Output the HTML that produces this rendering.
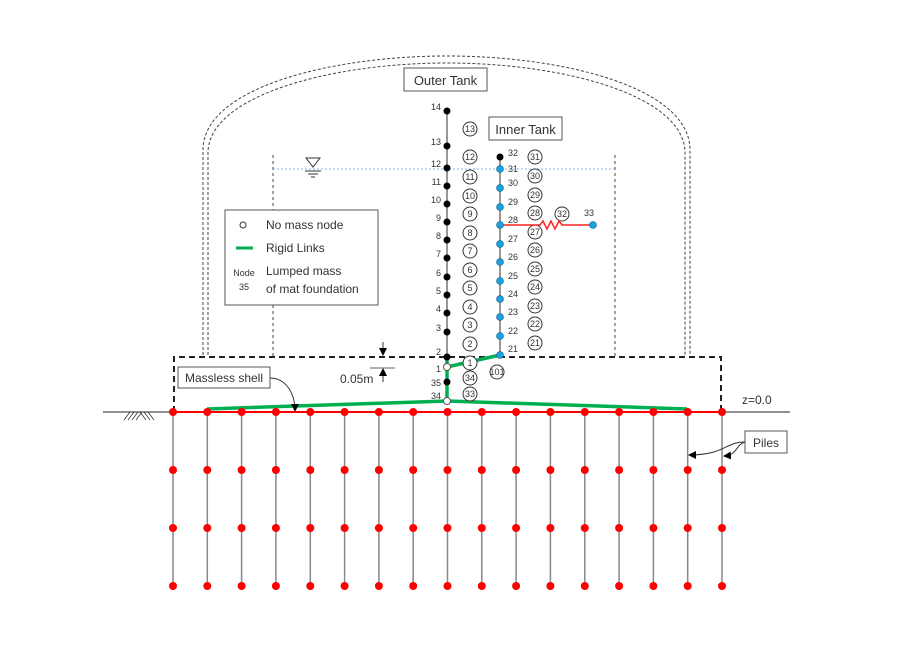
<!DOCTYPE html>
<html><head><meta charset="utf-8"><style>
html,body{margin:0;padding:0;background:#fff}
svg{display:block}
text{font-family:"Liberation Sans",sans-serif;fill:#333}
</style></head><body>
<svg width="900" height="650" viewBox="0 0 900 650" xmlns="http://www.w3.org/2000/svg">
<defs>
<marker id="ah" markerWidth="8" markerHeight="8" refX="7" refY="4" orient="auto" markerUnits="userSpaceOnUse"><path d="M0,0 L8,4 L0,8 z" fill="#000"/></marker>
</defs>
<!-- dome -->
<path d="M203,355 L203,150 C203,88 330,56 447,56 C565,56 690,88 690,150 L690,355" fill="none" stroke="#444" stroke-width="1" stroke-dasharray="3,2"/>
<path d="M208,355 L208,153 C208,96 330,63 447,63 C565,63 685,96 685,153 L685,355" fill="none" stroke="#444" stroke-width="1" stroke-dasharray="3,2"/>
<!-- inner tank walls -->
<line x1="273" y1="155" x2="273" y2="356" stroke="#444" stroke-dasharray="3,3"/>
<line x1="615" y1="155" x2="615" y2="356" stroke="#444" stroke-dasharray="3,3"/>
<!-- water line -->
<line x1="273" y1="169" x2="615" y2="169" stroke="#8ab4e0" stroke-dasharray="2,2"/>
<path d="M306,158 L320,158 L313,167 z" fill="none" stroke="#333"/>
<line x1="305" y1="171" x2="321" y2="171" stroke="#333"/>
<line x1="308" y1="174" x2="318" y2="174" stroke="#333"/>
<line x1="311" y1="177" x2="315" y2="177" stroke="#333"/>
<!-- foundation dashed rect -->
<path d="M174,412 L174,357 L721,357 L721,412" fill="none" stroke="#222" stroke-width="2" stroke-dasharray="6,4"/>
<!-- labels boxes -->
<rect x="404" y="68" width="83" height="23" fill="#fff" stroke="#555"/>
<text x="445.5" y="85" font-size="13" text-anchor="middle">Outer Tank</text>
<rect x="489" y="117" width="73" height="23" fill="#fff" stroke="#555"/>
<text x="525.5" y="134" font-size="13" text-anchor="middle">Inner Tank</text>
<!-- legend -->
<rect x="225" y="210" width="153" height="95" fill="#fff" stroke="#555"/>
<circle cx="243" cy="225" r="3" fill="#fff" stroke="#333"/>
<text x="266" y="229" font-size="12">No mass node</text>
<line x1="236" y1="248" x2="253" y2="248" stroke="#00b050" stroke-width="3"/>
<text x="266" y="252" font-size="12">Rigid Links</text>
<text x="244" y="276" font-size="9" text-anchor="middle">Node</text>
<text x="244" y="290" font-size="9" text-anchor="middle">35</text>
<text x="266" y="275" font-size="12">Lumped mass</text>
<text x="266" y="293" font-size="12">of mat foundation</text>
<!-- ground line -->
<line x1="103" y1="412" x2="790" y2="412" stroke="#222"/>
<g stroke="#333" stroke-width="0.8">
<line x1="124" y1="420" x2="130" y2="412"/><line x1="128" y1="420" x2="134" y2="412"/><line x1="132" y1="420" x2="138" y2="412"/><line x1="136" y1="420" x2="142" y2="412"/><line x1="140" y1="412" x2="146" y2="420"/><line x1="144" y1="412" x2="150" y2="420"/><line x1="148" y1="412" x2="154" y2="420"/>
</g>
<!-- piles -->
<g id="piles" stroke="#888" stroke-width="1.5">
<line x1="173" y1="412" x2="173" y2="586"/><line x1="207.3" y1="412" x2="207.3" y2="586"/><line x1="241.6" y1="412" x2="241.6" y2="586"/><line x1="275.9" y1="412" x2="275.9" y2="586"/><line x1="310.3" y1="412" x2="310.3" y2="586"/><line x1="344.6" y1="412" x2="344.6" y2="586"/><line x1="378.9" y1="412" x2="378.9" y2="586"/><line x1="413.2" y1="412" x2="413.2" y2="586"/><line x1="447.5" y1="412" x2="447.5" y2="586"/><line x1="481.8" y1="412" x2="481.8" y2="586"/><line x1="516.1" y1="412" x2="516.1" y2="586"/><line x1="550.4" y1="412" x2="550.4" y2="586"/><line x1="584.8" y1="412" x2="584.8" y2="586"/><line x1="619.1" y1="412" x2="619.1" y2="586"/><line x1="653.4" y1="412" x2="653.4" y2="586"/><line x1="687.7" y1="412" x2="687.7" y2="586"/><line x1="722" y1="412" x2="722" y2="586"/>
</g>
<!-- green rigid links -->
<g stroke="#00b050" stroke-width="3.5" fill="none">
<line x1="207" y1="409" x2="447" y2="401"/>
<line x1="447" y1="401" x2="687" y2="409"/>
<line x1="447" y1="357" x2="447" y2="401"/>
<line x1="447" y1="367" x2="500" y2="355"/>
</g>
<line x1="173" y1="412" x2="722" y2="412" stroke="#ff0000" stroke-width="2"/>
<g fill="#ff0000">
<script></script>
</g>
<g fill="#ff0000" id="pn">
<circle cx="173" cy="412" r="4"/><circle cx="207.3" cy="412" r="4"/><circle cx="241.6" cy="412" r="4"/><circle cx="275.9" cy="412" r="4"/><circle cx="310.3" cy="412" r="4"/><circle cx="344.6" cy="412" r="4"/><circle cx="378.9" cy="412" r="4"/><circle cx="413.2" cy="412" r="4"/><circle cx="447.5" cy="412" r="4"/><circle cx="481.8" cy="412" r="4"/><circle cx="516.1" cy="412" r="4"/><circle cx="550.4" cy="412" r="4"/><circle cx="584.8" cy="412" r="4"/><circle cx="619.1" cy="412" r="4"/><circle cx="653.4" cy="412" r="4"/><circle cx="687.7" cy="412" r="4"/><circle cx="722" cy="412" r="4"/>
<circle cx="173" cy="470" r="4"/><circle cx="207.3" cy="470" r="4"/><circle cx="241.6" cy="470" r="4"/><circle cx="275.9" cy="470" r="4"/><circle cx="310.3" cy="470" r="4"/><circle cx="344.6" cy="470" r="4"/><circle cx="378.9" cy="470" r="4"/><circle cx="413.2" cy="470" r="4"/><circle cx="447.5" cy="470" r="4"/><circle cx="481.8" cy="470" r="4"/><circle cx="516.1" cy="470" r="4"/><circle cx="550.4" cy="470" r="4"/><circle cx="584.8" cy="470" r="4"/><circle cx="619.1" cy="470" r="4"/><circle cx="653.4" cy="470" r="4"/><circle cx="687.7" cy="470" r="4"/><circle cx="722" cy="470" r="4"/>
<circle cx="173" cy="528" r="4"/><circle cx="207.3" cy="528" r="4"/><circle cx="241.6" cy="528" r="4"/><circle cx="275.9" cy="528" r="4"/><circle cx="310.3" cy="528" r="4"/><circle cx="344.6" cy="528" r="4"/><circle cx="378.9" cy="528" r="4"/><circle cx="413.2" cy="528" r="4"/><circle cx="447.5" cy="528" r="4"/><circle cx="481.8" cy="528" r="4"/><circle cx="516.1" cy="528" r="4"/><circle cx="550.4" cy="528" r="4"/><circle cx="584.8" cy="528" r="4"/><circle cx="619.1" cy="528" r="4"/><circle cx="653.4" cy="528" r="4"/><circle cx="687.7" cy="528" r="4"/><circle cx="722" cy="528" r="4"/>
<circle cx="173" cy="586" r="4"/><circle cx="207.3" cy="586" r="4"/><circle cx="241.6" cy="586" r="4"/><circle cx="275.9" cy="586" r="4"/><circle cx="310.3" cy="586" r="4"/><circle cx="344.6" cy="586" r="4"/><circle cx="378.9" cy="586" r="4"/><circle cx="413.2" cy="586" r="4"/><circle cx="447.5" cy="586" r="4"/><circle cx="481.8" cy="586" r="4"/><circle cx="516.1" cy="586" r="4"/><circle cx="550.4" cy="586" r="4"/><circle cx="584.8" cy="586" r="4"/><circle cx="619.1" cy="586" r="4"/><circle cx="653.4" cy="586" r="4"/><circle cx="687.7" cy="586" r="4"/><circle cx="722" cy="586" r="4"/>
</g>
<!-- outer tank stick -->
<line x1="447" y1="111" x2="447" y2="357" stroke="#777" stroke-width="1.5"/>
<g fill="#000">
<circle cx="447" cy="111" r="3.5"/><circle cx="447" cy="146" r="3.5"/><circle cx="447" cy="168" r="3.5"/><circle cx="447" cy="186" r="3.5"/><circle cx="447" cy="204" r="3.5"/><circle cx="447" cy="222" r="3.5"/><circle cx="447" cy="240" r="3.5"/><circle cx="447" cy="258" r="3.5"/><circle cx="447" cy="277" r="3.5"/><circle cx="447" cy="295" r="3.5"/><circle cx="447" cy="313" r="3.5"/><circle cx="447" cy="332" r="3.5"/><circle cx="447" cy="357" r="3.5"/><circle cx="447" cy="382" r="3.5"/>
</g>
<circle cx="447" cy="367" r="3.5" fill="#fff" stroke="#555"/>
<circle cx="447" cy="401" r="3.5" fill="#fff" stroke="#555"/>
<g font-size="9" text-anchor="end">
<text x="441" y="110">14</text><text x="441" y="145">13</text><text x="441" y="167">12</text><text x="441" y="185">11</text><text x="441" y="203">10</text><text x="441" y="221">9</text><text x="441" y="239">8</text><text x="441" y="257">7</text><text x="441" y="276">6</text><text x="441" y="294">5</text><text x="441" y="312">4</text><text x="441" y="331">3</text><text x="441" y="355">2</text><text x="441" y="372">1</text><text x="441" y="386">35</text><text x="441" y="399">34</text>
</g>
<g fill="#fff" stroke="#333" stroke-width="1">
<circle cx="470" cy="129" r="7"/><circle cx="470" cy="157" r="7"/><circle cx="470" cy="177" r="7"/><circle cx="470" cy="196" r="7"/><circle cx="470" cy="214" r="7"/><circle cx="470" cy="233" r="7"/><circle cx="470" cy="251" r="7"/><circle cx="470" cy="270" r="7"/><circle cx="470" cy="288" r="7"/><circle cx="470" cy="307" r="7"/><circle cx="470" cy="325" r="7"/><circle cx="470" cy="344" r="7"/><circle cx="470" cy="363" r="7"/><circle cx="470" cy="378" r="7"/><circle cx="470" cy="394" r="7"/>
<circle cx="535" cy="157" r="7"/><circle cx="535" cy="176" r="7"/><circle cx="535" cy="195" r="7"/><circle cx="535" cy="213" r="7"/><circle cx="535" cy="232" r="7"/><circle cx="535" cy="250" r="7"/><circle cx="535" cy="269" r="7"/><circle cx="535" cy="287" r="7"/><circle cx="535" cy="306" r="7"/><circle cx="535" cy="324" r="7"/><circle cx="535" cy="343" r="7"/><circle cx="497" cy="372" r="7"/><circle cx="562" cy="214" r="7"/>
</g>
<g font-size="9" text-anchor="middle">
<text x="470" y="132">13</text><text x="470" y="160">12</text><text x="470" y="180">11</text><text x="470" y="199">10</text><text x="470" y="217">9</text><text x="470" y="236">8</text><text x="470" y="254">7</text><text x="470" y="273">6</text><text x="470" y="291">5</text><text x="470" y="310">4</text><text x="470" y="328">3</text><text x="470" y="347">2</text><text x="470" y="366">1</text><text x="470" y="381">34</text><text x="470" y="397">33</text>
<text x="535" y="160">31</text><text x="535" y="179">30</text><text x="535" y="198">29</text><text x="535" y="216">28</text><text x="535" y="235">27</text><text x="535" y="253">26</text><text x="535" y="272">25</text><text x="535" y="290">24</text><text x="535" y="309">23</text><text x="535" y="327">22</text><text x="535" y="346">21</text><text x="497" y="375">101</text><text x="562" y="217">32</text>
</g>
<!-- inner stick -->
<line x1="500" y1="157" x2="500" y2="355" stroke="#777" stroke-width="1.5"/>
<path d="M500,225 L540,225 L543,221 L547,229 L551,221 L555,229 L559,221 L562,225 L593,225" fill="none" stroke="#ff2020" stroke-width="1.5"/>
<circle cx="500" cy="157" r="3.5" fill="#000"/>
<g fill="#19a2e0" stroke="#1a5a8a" stroke-width="0.6">
<circle cx="500" cy="169" r="3.5"/><circle cx="500" cy="188" r="3.5"/><circle cx="500" cy="207" r="3.5"/><circle cx="500" cy="225" r="3.5"/><circle cx="500" cy="244" r="3.5"/><circle cx="500" cy="262" r="3.5"/><circle cx="500" cy="281" r="3.5"/><circle cx="500" cy="299" r="3.5"/><circle cx="500" cy="317" r="3.5"/><circle cx="500" cy="336" r="3.5"/><circle cx="500" cy="355" r="3.5"/><circle cx="593" cy="225" r="3.5"/>
</g>
<g font-size="9">
<text x="508" y="156">32</text><text x="508" y="172">31</text><text x="508" y="186">30</text><text x="508" y="205">29</text><text x="508" y="223">28</text><text x="508" y="242">27</text><text x="508" y="260">26</text><text x="508" y="279">25</text><text x="508" y="297">24</text><text x="508" y="315">23</text><text x="508" y="334">22</text><text x="508" y="352">21</text><text x="584" y="216">33</text>
</g>
<!-- massless shell -->
<rect x="178" y="367" width="92" height="21" fill="#fff" stroke="#555"/>
<text x="224" y="382" font-size="12" text-anchor="middle">Massless shell</text>
<path d="M270,378 C285,378 295,392 295,411" fill="none" stroke="#333" marker-end="url(#ah)"/>
<!-- 0.05m -->
<text x="340" y="383" font-size="12">0.05m</text>
<line x1="383" y1="342" x2="383" y2="355" stroke="#333" marker-end="url(#ah)"/>
<line x1="383" y1="382" x2="383" y2="369" stroke="#333" marker-end="url(#ah)"/>
<line x1="370" y1="368" x2="395" y2="368" stroke="#333" stroke-width="0.8"/>
<!-- z=0.0 -->
<text x="742" y="404" font-size="12">z=0.0</text>
<!-- piles label -->
<rect x="745" y="431" width="42" height="22" fill="#fff" stroke="#555"/>
<text x="766" y="447" font-size="12" text-anchor="middle">Piles</text>
<path d="M745,442 C725,442 725,455 689,455" fill="none" stroke="#333" marker-end="url(#ah)"/>
<path d="M745,442 C735,445 738,455 724,456" fill="none" stroke="#333" marker-end="url(#ah)"/>
</svg>
</body></html>
